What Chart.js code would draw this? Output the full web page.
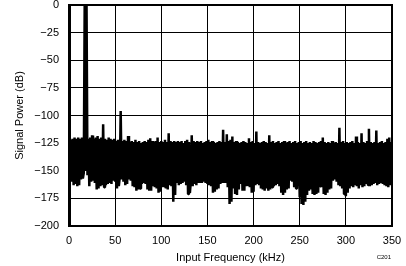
<!DOCTYPE html>
<html><head><meta charset="utf-8">
<script src="https://cdn.jsdelivr.net/npm/chart.js@4.4.0/dist/chart.umd.min.js"></script>
<style>html,body{margin:0;padding:0;background:#fff;overflow:hidden}canvas{display:block}</style>
</head><body>
<canvas id="c" width="406" height="266"></canvas>
<script>
// FFT bins, 1 kHz apart, starting at 0 kHz
const binStepKHz = 1;
const powerDb = [
 -121,-158,-122,-160,-121,-163,-120,-162,-121,-164,
 -120,-163,-121,-158,-120,-157,-152,0,-150,0,
 -154,-121,-164,-120,-160,-118,-159,-121,-161,-120,
 -167,-118.5,-166,-121,-164,-120,-163,-108,-165,-121,
 -163,-122,-162,-120,-161,-121,-162,-122,-159,-121,
 -160,-123,-166,-122,-164,-156,-96,-158,-123,-160,
 -122,-163,-123,-162,-118.5,-158,-124,-159,-123,-164,
 -124,-165,-122,-168,-124,-167,-123,-166,-125,-162,
 -124,-161,-123,-162,-124,-167,-122,-168,-120.5,-168,
 -123,-164,-124,-165,-123,-166,-120,-170,-124,-169,
 -123,-165,-124,-164,-122,-166,-124,-167,-116,-163,
 -123,-164,-124,-178,-123,-172,-124,-161,-123,-163,
 -124,-162,-123,-161,-125,-160,-123,-163,-122,-171,
 -124,-170,-160,-118,-164,-123,-162,-124,-163,-123,
 -161,-124,-160,-123,-161,-125,-160,-124,-161,-123,
 -162,-122,-163,-124,-164,-123,-170,-124,-169,-125,
 -167,-124,-166,-123,-162,-124,-161,-113,-160,-124,
 -161,-117,-165,-123,-180,-122,-178,-119,-166,-124,
 -171,-123,-172,-124,-167,-125,-162,-124,-168,-123,
 -168,-124,-164,-125,-163,-120.5,-165,-124,-170,-123,
 -169,-125,-163,-114.5,-162,-124,-163,-125,-166,-124,
 -167,-123,-168,-124,-166,-125,-168,-118,-167,-124,
 -165,-123,-164,-125,-163,-124,-162,-123,-164,-125,
 -170,-124,-172,-123,-170,-125,-167,-124,-166,-123,
 -159,-125,-160,-124,-165,-123,-166,-125,-164,-124,
 -174,-123,-180,-125,-181,-124,-178,-123,-172,-125,
 -168,-124,-167,-125,-171,-123,-172,-124,-171,-125,
 -170,-124,-164,-123,-165,-120,-171,-124,-172,-125,
 -170,-124,-167,-125,-166,-123,-159,-125,-158,-124,
 -160,-125,-163,-111,-164,-124,-166,-123,-171,-125,
 -173,-124,-170,-125,-166,-124,-164,-123,-165,-125,
 -163,-119,-164,-124,-166,-125,-163,-116,-165,-124,
 -164,-125,-162,-123,-163,-112,-164,-124,-163,-125,
 -162,-124,-161,-113.5,-163,-125,-162,-124,-161,-123,
 -162,-125,-163,-124,-164,-121,-165,-120,-163,-124,
 -160
];
const xTickValues = [0, 50, 100, 150, 200, 250, 300, 350];
const yTickValues = [0, -25, -50, -75, -100, -125, -150, -175, -200];
const xTitle = 'Input Frequency (kHz)';
const yTitle = 'Signal Power (dB)';
const figureCode = 'C201';

const points = powerDb.map((v, i) => ({x: i * binStepKHz, y: v}));
const FONT = '"Liberation Sans", Arial, Helvetica, sans-serif';
const fmt = v => v < 0 ? '\u2212' + Math.abs(v) : String(v);

const framePlugin = {
  id: 'frame',
  afterDatasetsDraw(chart) {
    const {ctx, chartArea: a} = chart;
    ctx.save();
    ctx.strokeStyle = '#000';
    ctx.lineWidth = 2;
    ctx.strokeRect(a.left, a.top, a.right - a.left, a.bottom - a.top);
    ctx.lineWidth = 3;
    ctx.beginPath();
    ctx.moveTo(a.left + 0.5, a.top - 1);
    ctx.lineTo(a.left + 0.5, a.bottom + 1);
    ctx.stroke();
    ctx.restore();
  },
  afterDraw(chart) {
    const {ctx} = chart;
    ctx.save();
    ctx.fillStyle = '#000';
    ctx.font = '6px ' + FONT;
    ctx.textAlign = 'right';
    ctx.textBaseline = 'middle';
    ctx.fillText(figureCode, 391, 257);
    ctx.restore();
  }
};

new Chart(document.getElementById('c'), {
  type: 'line',
  data: {datasets: [{
    data: points,
    borderColor: '#000',
    borderWidth: 2.5,
    borderJoinStyle: 'bevel',
    pointRadius: 0,
    tension: 0,
    fill: false
  }]},
  options: {
    responsive: false,
    animation: false,
    devicePixelRatio: 1,
    parsing: false,
    layout: {padding: {top: 5, right: 14, left: 0, bottom: 0}},
    plugins: {legend: {display: false}, tooltip: {enabled: false}},
    scales: {
      x: {
        type: 'linear', min: 0, max: 350,
        afterBuildTicks: s => { s.ticks = xTickValues.map(v => ({value: v})); },
        afterFit: s => { s.height = 40; s.paddingLeft = 0; s.paddingRight = 0; },
        ticks: {color: '#000', font: {family: FONT, size: 11}, padding: 8, maxRotation: 0, autoSkip: false, callback: fmt},
        grid: {color: '#000', lineWidth: 1, drawTicks: false},
        border: {color: '#000', width: 2},
        title: {display: true, text: xTitle, color: '#000', font: {family: FONT, size: 11}, padding: {top: 0, bottom: 1}}
      },
      y: {
        type: 'linear', min: -200, max: 0,
        afterBuildTicks: s => { s.ticks = yTickValues.map(v => ({value: v})); },
        afterFit: s => { s.width = 69; s.paddingTop = 0; s.paddingBottom = 0; },
        ticks: {color: '#000', font: {family: FONT, size: 11}, padding: 10, autoSkip: false, callback: fmt},
        grid: {color: '#000', lineWidth: 1, drawTicks: false},
        border: {color: '#000', width: 2},
        title: {display: true, text: yTitle, color: '#000', font: {family: FONT, size: 11}, padding: {top: 13, bottom: 0}}
      }
    }
  },
  plugins: [framePlugin]
});
</script>
</body></html>
